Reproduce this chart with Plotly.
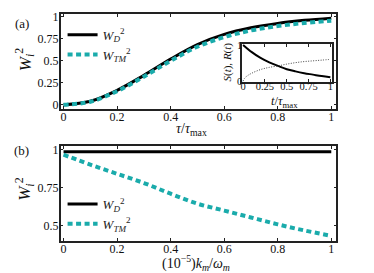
import plotly.graph_objects as go

W, H = 374, 273
def px(x): return x / W
def py(y): return 1 - y / H

# ---------------- data ----------------
tau = [0.0, 0.1, 0.2, 0.3, 0.4, 0.5, 0.6, 0.7, 0.8, 0.9, 1.0]
wd_a = [0.0, 0.04, 0.165, 0.335, 0.52, 0.685, 0.80, 0.875, 0.925, 0.96, 0.985]
wtm_a = [0.0, 0.035, 0.155, 0.32, 0.50, 0.66, 0.77, 0.845, 0.895, 0.93, 0.955]

t_in = [0.0, 0.1, 0.2, 0.3, 0.4, 0.5, 0.6, 0.7, 0.8, 0.9, 1.0]
s_in = [1.0, 0.80, 0.64, 0.52, 0.42, 0.33, 0.27, 0.22, 0.18, 0.14, 0.11]
t_r = [0.0, 0.02, 0.05, 0.1, 0.2, 0.3, 0.4, 0.5, 0.6, 0.7, 0.8, 0.9, 1.0]
r_in = [0.0, 0.09, 0.15, 0.22, 0.32, 0.38, 0.42, 0.47, 0.51, 0.54, 0.56, 0.58, 0.60]

km = [0.0, 0.1, 0.2, 0.3, 0.4, 0.5, 0.6, 0.7, 0.8, 0.9, 1.0]
wd_b = [0.985] * 11
wtm_b = [0.965, 0.90, 0.84, 0.78, 0.71, 0.645, 0.60, 0.555, 0.51, 0.47, 0.435]

x_ticks = [0, 0.2, 0.4, 0.6, 0.8, 1]
x_ticktext = ["0", "0.2", "0.4", "0.6", "0.8", "1"]
ya_ticks = [0, 0.25, 0.5, 0.75, 1]
ya_ticktext = ["0", "0.25", "0.5", "0.75", "1"]
yb_ticks = [0.5, 0.75, 1]
yb_ticktext = ["0.5", "0.75", "1"]
xin_ticks = [0, 0.25, 0.5, 0.75, 1]
xin_ticktext = ["0", "0.25", "0.5", "0.75", "1"]
yin_ticks = [0, 1]
yin_ticktext = ["0", "1"]

TEAL = "#1aabab"
FONT = "Liberation Serif, DejaVu Serif, serif"
DASH = "5px,3.5px"

fig = go.Figure()
# panel (a)
fig.add_trace(go.Scatter(x=tau, y=wd_a, mode="lines", line=dict(color="black", width=3, shape="spline"),
                         name="<i>W</i><sub><i>D</i></sub><sup>2</sup>", xaxis="x", yaxis="y", legend="legend"))
fig.add_trace(go.Scatter(x=tau, y=wtm_a, mode="lines", line=dict(color=TEAL, width=4, dash=DASH, shape="spline"),
                         name="<i>W</i><sub><i>TM</i></sub><sup>2</sup>", xaxis="x", yaxis="y", legend="legend"))
# inset
fig.add_trace(go.Scatter(x=t_in, y=s_in, mode="lines", line=dict(color="black", width=2, shape="spline"),
                         showlegend=False, xaxis="x3", yaxis="y3"))
fig.add_trace(go.Scatter(x=t_r, y=r_in, mode="lines", line=dict(color="#444", width=1, dash="1px,1.5px", shape="spline"),
                         showlegend=False, xaxis="x3", yaxis="y3"))
# panel (b)
fig.add_trace(go.Scatter(x=km, y=wd_b, mode="lines", line=dict(color="black", width=3),
                         name="<i>W</i><sub><i>D</i></sub><sup>2</sup>", xaxis="x2", yaxis="y2", legend="legend2"))
fig.add_trace(go.Scatter(x=km, y=wtm_b, mode="lines", line=dict(color=TEAL, width=4, dash=DASH, shape="spline"),
                         name="<i>W</i><sub><i>TM</i></sub><sup>2</sup>", xaxis="x2", yaxis="y2", legend="legend2"))

def ax(domain, rng, tv, tt, anchor, size=12, standoff=0):
    return dict(domain=domain, range=rng, tickvals=tv, ticktext=tt, anchor=anchor,
                showline=True, mirror="ticks", linecolor="#222", linewidth=1.5,
                ticks="inside", ticklen=3, tickwidth=1, tickcolor="#222",
                ticklabelstandoff=standoff,
                showgrid=False, zeroline=False, tickfont=dict(family=FONT, size=size, color="#111"))

xdom = [px(51), px(329)]
fig.update_layout(
    width=W, height=H, autosize=False,
    margin=dict(l=0, r=0, t=0, b=0),
    paper_bgcolor="white", plot_bgcolor="white",
    font=dict(family=FONT, color="#111"),
    xaxis=ax(xdom, [-0.011, 1.019], x_ticks, x_ticktext, "y", standoff=-4),
    yaxis=ax([py(100), py(2)], [-0.044, 1.033], ya_ticks, ya_ticktext, "x", standoff=-2),
    xaxis2=ax(xdom, [-0.011, 1.019], x_ticks, x_ticktext, "y2", standoff=-4),
    yaxis2=ax([py(237), py(139)], [0.40, 1.019], yb_ticks, yb_ticktext, "x2", standoff=-2),
    xaxis3=ax([px(234), px(325)], [-0.011, 1.023], xin_ticks, xin_ticktext, "y3", size=10.5, standoff=-6),
    yaxis3=ax([py(72), py(33)], [-0.013, 1.027], yin_ticks, yin_ticktext, "x3", size=10.5, standoff=-4),
    legend=dict(x=px(53), y=py(8), xanchor="left", yanchor="top", bgcolor="rgba(0,0,0,0)",
                itemwidth=30, tracegroupgap=0, font=dict(family=FONT, size=13, color="#222")),
    legend2=dict(x=px(53), y=py(183), xanchor="left", yanchor="top", bgcolor="rgba(0,0,0,0)",
                 itemwidth=30, tracegroupgap=0, font=dict(family=FONT, size=13, color="#222")),
)

def ann(text, x, y, size, angle=0):
    fig.add_annotation(text=text, x=px(x), y=py(y), xref="paper", yref="paper",
                       showarrow=False, textangle=angle, xanchor="center", yanchor="middle",
                       font=dict(family=FONT, size=size, color="#111"))

ann("(a)", 12, 12, 13)
ann("(b)", 12, 143, 13)
ann("<i>W</i><sub><i>i</i></sub><sup>2</sup>", 15, 49, 17, -90)
ann("<i>W</i><sub><i>i</i></sub><sup>2</sup>", 15, 183, 17, -90)
ann("<i>τ</i>/<i>τ</i><sub>max</sub>", 183, 122, 14)
ann("(10<sup>−5</sup>)<i>k</i><sub><i>m</i></sub>/<i>ω</i><sub><i>m</i></sub>", 187, 260, 14)
ann("<i>t</i>/<i>τ</i><sub>max</sub>", 277, 93, 12.5)
ann("<i>S</i>(<i>t</i>), <i>R</i>(<i>t</i>)", 219, 52, 11, -90)

fig.write_html("out.html")
